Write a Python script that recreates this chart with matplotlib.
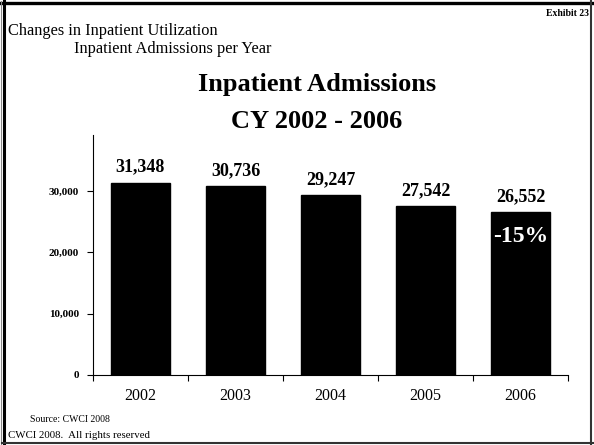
import matplotlib
matplotlib.use('Agg')
import matplotlib.pyplot as plt
from matplotlib.lines import Line2D
from matplotlib.ticker import FuncFormatter

plt.rcParams['font.family'] = ['Liberation Serif', 'DejaVu Serif']

years = ['2002', '2003', '2004', '2005', '2006']
admissions = [31348, 30736, 29247, 27542, 26552]
yticks = [0, 10000, 20000, 30000]
change_label = '-15%'

W, H = 594, 445
fig = plt.figure(figsize=(W / 100.0, H / 100.0), dpi=100)
fig.patch.set_facecolor('white')

def fx(px):
    return px / float(W)

def fy(py):
    return 1.0 - py / float(H)

# slide frame
fig.add_artist(Line2D([fx(0), fx(593)], [fy(2.5), fy(2.5)], color='black', lw=2.4))
fig.add_artist(Line2D([fx(3.5), fx(3.5)], [fy(1), fy(444)], color='black', lw=2.2))
fig.add_artist(Line2D([fx(1), fx(1)], [fy(1), fy(444)], color='#888888', lw=0.8))
fig.add_artist(Line2D([fx(591), fx(591)], [fy(1), fy(444)], color='#333333', lw=1.5))
fig.add_artist(Line2D([fx(2), fx(593)], [fy(443), fy(443)], color='#333333', lw=1.5))

ax = fig.add_axes([fx(93), fy(375), fx(568) - fx(93), fy(135) - fy(375)])
pos = list(range(len(years)))
bars = ax.bar(pos, admissions, width=0.63, color='black', edgecolor='black')

ax.set_yticks(yticks)
ax.set_xticks([p - 0.5 for p in pos] + [len(years) - 0.5])
ax.set_xlim(-0.5, len(years) - 0.5)
ax.set_ylim(0, 39100)
ax.yaxis.set_major_formatter(FuncFormatter(lambda v, p: '{:,.0f}'.format(v)))
ax.set_xticklabels([])
for p, yr in zip(pos, years):
    ax.text(p, -0.087, yr, transform=ax.get_xaxis_transform(), ha='center', va='center', fontsize=11.5)

for lbl in ax.get_yticklabels():
    lbl.set_fontweight('bold')
    lbl.set_fontsize(8)
ax.tick_params(axis='both', direction='out', length=4, width=0.8, colors='black')
ax.tick_params(axis='y', pad=6)
for s in ('top', 'right'):
    ax.spines[s].set_visible(False)
for s in ('left', 'bottom'):
    ax.spines[s].set_linewidth(0.8)

for b, v in zip(bars, admissions):
    ax.annotate('{:,}'.format(v), (b.get_x() + b.get_width() / 2, v), xytext=(0, 5),
                textcoords='offset points', ha='center', va='bottom', fontsize=13, fontweight='bold')

last = bars[-1]
ax.text(last.get_x() + last.get_width() / 2, 22500, change_label, ha='center', va='center',
        color='white', fontsize=17, fontweight='bold')

fig.text(fx(8), fy(31), 'Changes in Inpatient Utilization', ha='left', va='center', fontsize=11.8)
fig.text(fx(74), fy(49), 'Inpatient Admissions per Year', ha='left', va='center', fontsize=11.8)
fig.text(fx(589), fy(13), 'Exhibit 23', ha='right', va='center', fontsize=7, fontweight='bold')
fig.text(fx(317), fy(85), 'Inpatient Admissions', ha='center', va='center', fontsize=19, fontweight='bold')
fig.text(fx(317), fy(121), 'CY 2002 - 2006', ha='center', va='center', fontsize=19, fontweight='bold')
fig.text(fx(30), fy(419), 'Source: CWCI 2008', ha='left', va='center', fontsize=7)
fig.text(fx(8), fy(436), 'CWCI 2008.  All rights reserved', ha='left', va='center', fontsize=7.8)

fig.savefig('out.png', dpi=100, facecolor='white')
